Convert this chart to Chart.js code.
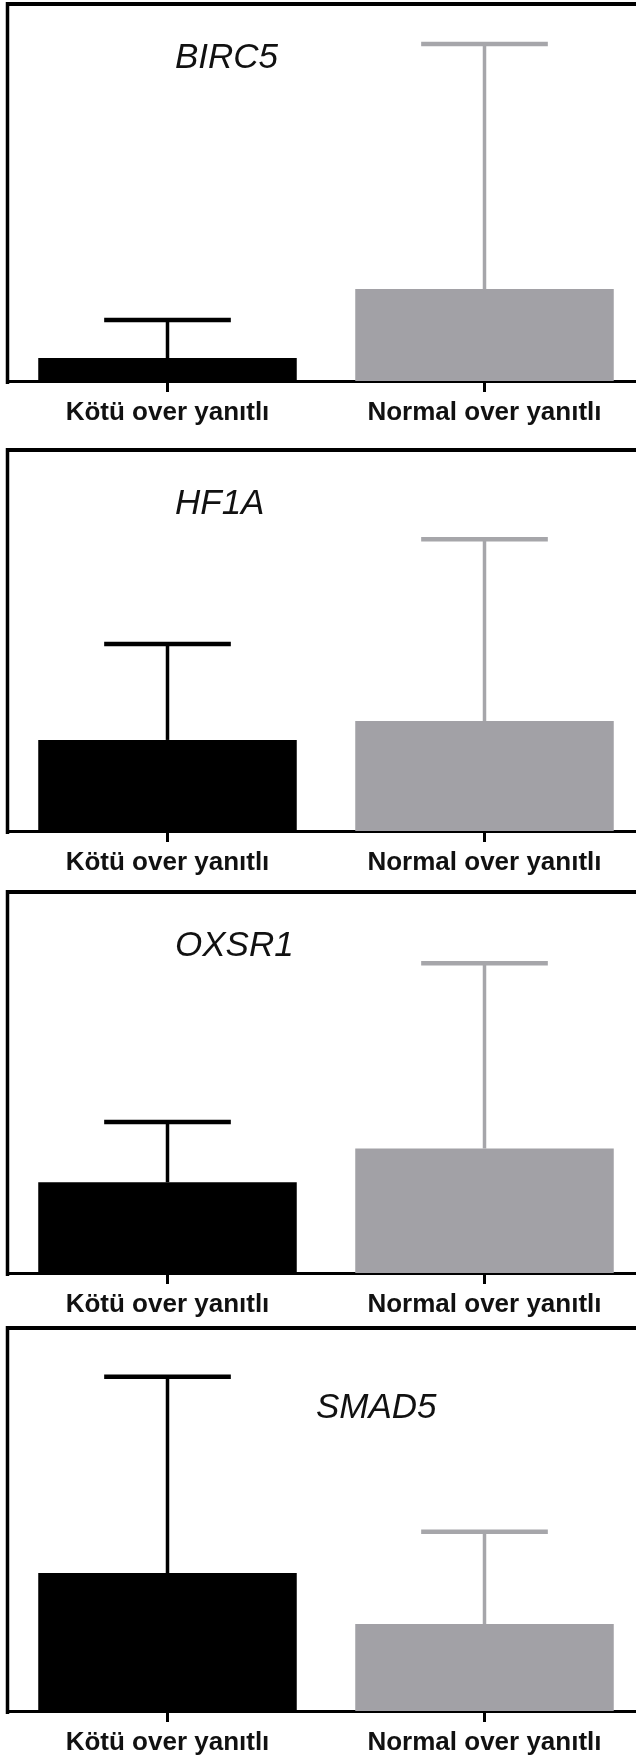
<!DOCTYPE html>
<html lang="tr">
<head>
<meta charset="UTF-8">
<title>BIRC5 / HF1A / OXSR1 / SMAD5</title>
<script src="https://cdn.jsdelivr.net/npm/chart.js"></script>
<style>
  html, body { margin: 0; padding: 0; background: #fff; }
  body { width: 636px; height: 1760px; overflow: hidden; position: relative; }
  canvas { position: absolute; left: 0; }
</style>
</head>
<body>
<script>
const groups = ['Kötü over yanıtlı', 'Normal over yanıtlı'];
const genes = ['BIRC5', 'HF1A', 'OXSR1', 'SMAD5'];
// mean and SD per gene (arbitrary units)
const kotuMean   = [0.61, 2.39, 2.38, 3.60];
const kotuSD     = [1.01, 2.52, 1.58, 5.13];
const normalMean = [2.44, 2.89, 3.27, 2.27];
const normalSD   = [6.50, 4.77, 4.86, 2.41];
const yMax = 10;

// page layout: plot top / baseline of each panel, gene label position
const panelTop    = [4, 450, 892, 1328];
const panelBottom = [381, 831, 1273, 1711];
const titleX = [175, 175, 175, 316];
const titleY = [64, 64, 64, 90];

const barColors = ['#000000', '#A2A1A6'];
const errColors = ['#000000', '#A6A6AA'];

// error bars (upper only), frame and gene name
const panelDecor = {
    id: 'panelDecor',
    afterDatasetsDraw(chart, args, opts) {
        const ctx = chart.ctx;
        const y = chart.scales.y;
        const meta = chart.getDatasetMeta(0);
        meta.data.forEach((bar, i) => {
            const val = chart.data.datasets[0].data[i];
            const top = y.getPixelForValue(val + opts.sd[i]);
            const half = bar.width * 0.245;
            ctx.save();
            ctx.strokeStyle = errColors[i];
            ctx.lineWidth = 3.5;
            ctx.beginPath();
            ctx.moveTo(bar.x, bar.y);
            ctx.lineTo(bar.x, top);
            ctx.stroke();
            ctx.lineWidth = 4.5;
            ctx.beginPath();
            ctx.moveTo(bar.x - half, top);
            ctx.lineTo(bar.x + half, top);
            ctx.stroke();
            ctx.restore();
        });
    },
    afterDraw(chart, args, opts) {
        const ctx = chart.ctx;
        const a = chart.chartArea;
        ctx.save();
        ctx.strokeStyle = '#000';
        ctx.lineWidth = 4;
        ctx.beginPath();
        ctx.moveTo(a.left - 3, a.top);
        ctx.lineTo(chart.width, a.top);
        ctx.stroke();
        ctx.lineWidth = 3.5;
        ctx.beginPath();
        ctx.moveTo(a.left - 1.5, a.top - 2);
        ctx.lineTo(a.left - 1.5, a.bottom + 3);
        ctx.stroke();
        ctx.fillStyle = '#111';
        ctx.font = 'italic 35px "Liberation Sans"';
        ctx.textAlign = 'left';
        ctx.textBaseline = 'alphabetic';
        ctx.fillText(opts.gene, opts.tx, a.top + opts.ty);
        ctx.restore();
    }
};

genes.forEach((gene, i) => {
    const canvas = document.createElement('canvas');
    canvas.width = 650;
    canvas.height = panelBottom[i] - panelTop[i] + 8 + 56;
    canvas.style.top = (panelTop[i] - 8) + 'px';
    document.body.appendChild(canvas);

    new Chart(canvas.getContext('2d'), {
        type: 'bar',
        data: {
            labels: groups,
            datasets: [{
                data: [kotuMean[i], normalMean[i]],
                backgroundColor: barColors,
                borderWidth: 0,
                barPercentage: 0.8155,
                categoryPercentage: 1
            }]
        },
        options: {
            responsive: false,
            animation: false,
            events: [],
            layout: { padding: { top: 8, left: 9, right: 7, bottom: 0 } },
            plugins: {
                legend: { display: false },
                tooltip: { enabled: false },
                panelDecor: {
                    gene: gene,
                    sd: [kotuSD[i], normalSD[i]],
                    tx: titleX[i],
                    ty: titleY[i]
                }
            },
            scales: {
                x: {
                    grid: {
                        display: true,
                        offset: false,
                        drawOnChartArea: false,
                        drawTicks: true,
                        tickLength: 11,
                        tickWidth: 3,
                        tickColor: '#000'
                    },
                    border: { display: true, color: '#000', width: 3 },
                    ticks: {
                        color: '#111',
                        font: { family: 'Liberation Sans', size: 26, weight: 'bold' },
                        padding: 5,
                        maxRotation: 0,
                        autoSkip: false
                    },
                    afterFit(scale) { scale.height = 56; }
                },
                y: { display: false, min: 0, max: yMax }
            }
        },
        plugins: [panelDecor]
    });
});
</script>
</body>
</html>
